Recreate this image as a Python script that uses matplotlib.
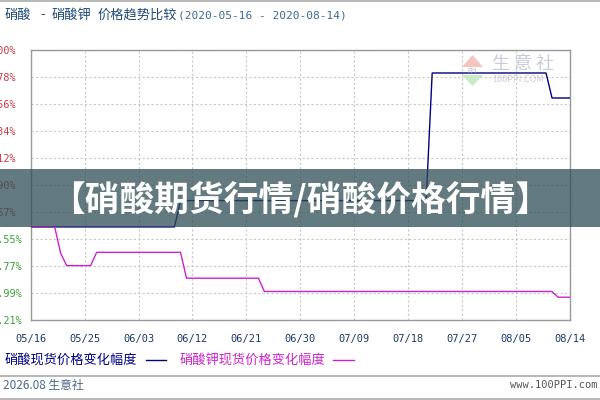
import pandas as pd
import matplotlib
matplotlib.use('Agg')
from matplotlib import pyplot as plt
from matplotlib.patches import Rectangle, Polygon
from matplotlib.lines import Line2D

plt.rcParams['font.family'] = ['Noto Sans CJK SC', 'DejaVu Sans']

# price change series (% vs. 2020-05-16) at the turning points
nitric_dates = ['2020-05-16', '2020-06-09', '2020-06-10', '2020-07-21', '2020-07-22',
                '2020-08-10', '2020-08-11', '2020-08-14']
nitric_values = [0.0, 0.0, 1.19, 1.19, 6.96, 6.96, 5.83, 5.83]

potassium_dates = ['2020-05-16', '2020-05-20', '2020-05-21', '2020-05-22', '2020-05-26',
                   '2020-05-27', '2020-06-10', '2020-06-11', '2020-06-23', '2020-06-24',
                   '2020-08-11', '2020-08-12', '2020-08-14']
potassium_values = [0.0, 0.0, -1.19, -1.75, -1.75, -1.15, -1.15, -2.32, -2.32, -2.92,
                    -2.92, -3.18, -3.18]

x_ticks = ['2020-05-16', '2020-05-25', '2020-06-03', '2020-06-12', '2020-06-21', '2020-06-30',
           '2020-07-09', '2020-07-18', '2020-07-27', '2020-08-05', '2020-08-14']
x_labels = ['05/16', '05/25', '06/03', '06/12', '06/21', '06/30',
            '07/09', '07/18', '07/27', '08/05', '08/14']
y_ticks = [-4.21, -2.99, -1.77, -0.55, 0.67, 1.90, 3.12, 4.34, 5.56, 6.78, 8.00]
y_labels = ['-4.21%', '-2.99%', '-1.77%', '-0.55%', '0.67%', '1.90%',
            '3.12%', '4.34%', '5.56%', '6.78%', '8.00%']

# title pieces and their left edges (px)
title_parts = ['硝酸', '-', '硝酸钾', '价格趋势比较']
title_x = [5, 40, 52, 98]
title_dates = '(2020-05-16 - 2020-08-14)'
legend_names = ['硝酸现货价格变化幅度', '硝酸钾现货价格变化幅度']
banner_text = '【硝酸期货行情/硝酸价格行情】'

NAVY = '#000080'
MAGENTA = '#cc22cc'


def fx(px):
    return px / 600


def fy(py):
    return 1 - py / 400


fig = plt.figure(figsize=(6, 4), dpi=100)
ax = fig.add_axes([30.7 / 600, 80 / 400, 539.3 / 600, 270 / 400])

ax.plot(pd.to_datetime(nitric_dates), nitric_values, color=NAVY, lw=1.0, zorder=3)
ax.plot(pd.to_datetime(potassium_dates), potassium_values, color=MAGENTA, lw=1.0, zorder=3)

ax.set_xlim(pd.Timestamp('2020-05-16'), pd.Timestamp('2020-08-14'))
ax.set_ylim(y_ticks[0], y_ticks[-1])

ax.set_xticks(pd.to_datetime(x_ticks))
ax.set_xticklabels(x_labels, family='DejaVu Sans Mono', fontsize=7.5, color='#1c3a66')
ax.set_yticks(y_ticks)
ax.set_yticklabels(y_labels, family='DejaVu Sans Mono', fontsize=7.3)
for lab, v in zip(ax.get_yticklabels(), y_ticks):
    lab.set_ha('left')
    lab.set_color('#c83844' if v > 0 else '#38a038')
ax.tick_params(axis='x', length=0, pad=10)
ax.tick_params(axis='y', length=0, pad=32.5)

ax.grid(True, color='#c8c8c8', linestyle=(0, (2, 2)), lw=0.8)
for s in ax.spines.values():
    s.set_color('#999999')
    s.set_linewidth(1.0)

# title
for part, px in zip(title_parts, title_x):
    fig.text(fx(px), fy(15), part, fontsize=9.5, color='#1e4a78', va='center')
fig.text(fx(178), fy(15), title_dates, family='DejaVu Sans Mono', fontsize=8,
         color='#3a6a90', va='center')

# legend row
fig.text(fx(5), fy(360), legend_names[0], fontsize=9.5, color=NAVY, va='center')
fig.add_artist(Line2D([fx(146), fx(166)], [fy(360)] * 2, color=NAVY, lw=1.0))
fig.text(fx(180), fy(360), legend_names[1], fontsize=9.5, color=MAGENTA, va='center')
fig.add_artist(Line2D([fx(333), fx(354)], [fy(360)] * 2, color=MAGENTA, lw=1.0))

# frame lines and footer
for yy in [1, 376, 399]:
    fig.add_artist(Line2D([0, 1], [fy(yy)] * 2, color='#aaaaaa', lw=1.2))
fig.text(fx(3), fy(385), '2026.08 生意社', fontsize=8.5, color='#4a6a8a', va='center')
fig.text(fx(598), fy(385), 'www.100PPI.com', family='DejaVu Sans Mono', fontsize=7.5,
         color='#555555', va='center', ha='right')

# watermark logo
fig.add_artist(Polygon([(fx(462), fy(67)), (fx(483), fy(67)), (fx(472.5), fy(55))],
                       closed=True, color='#f4c4c0', lw=0, zorder=1))
fig.add_artist(Polygon([(fx(462), fy(75)), (fx(483), fy(75)), (fx(472.5), fy(86))],
                       closed=True, color='#c8ecc8', lw=0, zorder=1))
fig.text(fx(472.5), fy(71), 'PPI', fontsize=4.5, color='#b8bcd0', ha='center', va='center')
fig.text(fx(492), fy(64), '生 意 社', fontsize=13, color='#c8ccd8', va='center')
fig.text(fx(492), fy(80), '100PPI.COM', fontsize=6.5, color='#c8ccd8', va='center')

# banner overlay
fig.add_artist(Rectangle((0, fy(227)), 1, (227 - 169) / 400, transform=fig.transFigure,
                         facecolor='#2f4f55', alpha=0.75, lw=0, zorder=10))
fig.text(0.5, fy(199), banner_text, fontsize=25, fontweight='bold', color='white',
         ha='center', va='center', zorder=11)

fig.savefig('out.png', dpi=100)
